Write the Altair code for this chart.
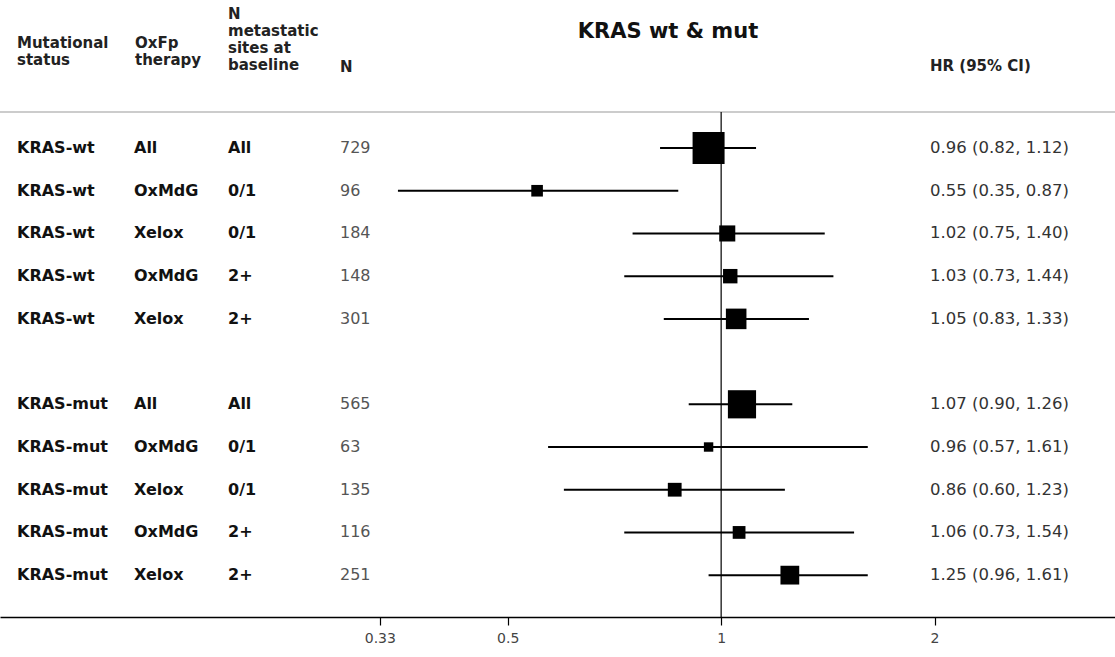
import altair as alt
import pandas as pd

# ---- data ----
status = ["KRAS-wt"] * 5 + ["KRAS-mut"] * 5
therapy = ["All", "OxMdG", "Xelox", "OxMdG", "Xelox"] * 2
sites = ["All", "0/1", "0/1", "2+", "2+"] * 2
n = [729, 96, 184, 148, 301, 565, 63, 135, 116, 251]
hr = [0.96, 0.55, 1.02, 1.03, 1.05, 1.07, 0.96, 0.86, 1.06, 1.25]
lo = [0.82, 0.35, 0.75, 0.73, 0.83, 0.90, 0.57, 0.60, 0.73, 0.96]
hi = [1.12, 0.87, 1.40, 1.44, 1.33, 1.26, 1.61, 1.23, 1.54, 1.61]
row = [0, 1, 2, 3, 4, 6, 7, 8, 9, 10]  # display order (blank row between groups)
tick_values = [0.33, 0.5, 1, 2]

df = pd.DataFrame({
    "status": status, "therapy": therapy, "sites": sites, "n": n,
    "hr": hr, "lo": lo, "hi": hi, "row": row,
})
df["n_txt"] = df["n"].astype(str)
df["hr_txt"] = [f"{h:.2f} ({l:.2f}, {u:.2f})" for h, l, u in zip(hr, lo, hi)]

W, H = 1115, 617
FONT = "DejaVu Sans"

xscale = alt.Scale(type="log", domain=[0.0961, 3.594], nice=False)
yscale = alt.Scale(domain=[-3.466, 10.98], reverse=True, nice=False, zero=False)
xaxis = alt.Axis(values=tick_values, labelExpr="datum.value", title=None, grid=False,
                 domainColor="#000", domainWidth=1.5, tickColor="#000", tickWidth=1.2,
                 tickSize=8, labelFont=FONT, labelFontSize=14, labelColor="#444",
                 labelPadding=6)
Y = alt.Y("row:Q", scale=yscale, axis=None)

base = alt.Chart(df)

ci = base.mark_rule(color="#000", strokeWidth=2).encode(
    x=alt.X("lo:Q", scale=xscale, axis=xaxis), x2="hi:Q", y=Y)

squares = base.mark_square(color="#000", opacity=1, filled=True).encode(
    x=alt.X("hr:Q", scale=xscale, axis=xaxis), y=Y,
    size=alt.Size("n:Q", scale=alt.Scale(domain=[0, 729], range=[0, 1024]), legend=None))

one = alt.Chart(pd.DataFrame({"v": [1]})).mark_rule(color="#000", strokeWidth=1.2).encode(
    x=alt.X("v:Q", scale=xscale, axis=xaxis), y=alt.value(112), y2=alt.value(H))

top_rule = alt.Chart(pd.DataFrame({"v": [1]})).mark_rule(color="#999", strokeWidth=1).encode(
    x=alt.value(0), x2=alt.value(W), y=alt.value(112))


def col(field, x, bold=True, size=16, color="#111"):
    return base.mark_text(align="left", baseline="middle", font=FONT, fontSize=size,
                          fontWeight="bold" if bold else "normal", color=color).encode(
        x=alt.value(x), y=Y, text=f"{field}:N")


def label(lines, x, y, size=15, bold=True, color="#222"):
    return alt.Chart(pd.DataFrame({"v": [1]})).mark_text(
        text=lines, align="left", baseline="top", font=FONT, fontSize=size,
        fontWeight="bold" if bold else "normal", color=color, lineHeight=17).encode(
        x=alt.value(x), y=alt.value(y))


layers = [
    top_rule, one, ci, squares,
    col("status", 17), col("therapy", 134), col("sites", 228),
    col("n_txt", 340, bold=False, size=16, color="#555"),
    col("hr_txt", 930, bold=False, size=16.5, color="#333"),
    label(["Mutational", "status"], 17, 36),
    label(["OxFp", "therapy"], 135, 36),
    label(["N", "metastatic", "sites at", "baseline"], 228, 7),
    label(["N"], 340, 60),
    label(["HR (95% CI)"], 930, 59),
    alt.Chart(pd.DataFrame({"v": [1]})).mark_text(
        text="KRAS wt & mut", align="center", baseline="middle", font=FONT,
        fontSize=21, fontWeight="bold", color="#111").encode(
        x=alt.value(668), y=alt.value(32)),
]

chart = alt.layer(*layers).properties(
    width=W, height=H,
    autosize=alt.AutoSizeParams(type="none"),
    padding={"left": 0, "right": 0, "top": 0, "bottom": 40},
    view=alt.ViewBackground(stroke="transparent", strokeWidth=0),
).configure_view(stroke="transparent", strokeWidth=0).configure(background="white")

chart.save("out.html", embed_options={"renderer": "svg", "actions": False})
